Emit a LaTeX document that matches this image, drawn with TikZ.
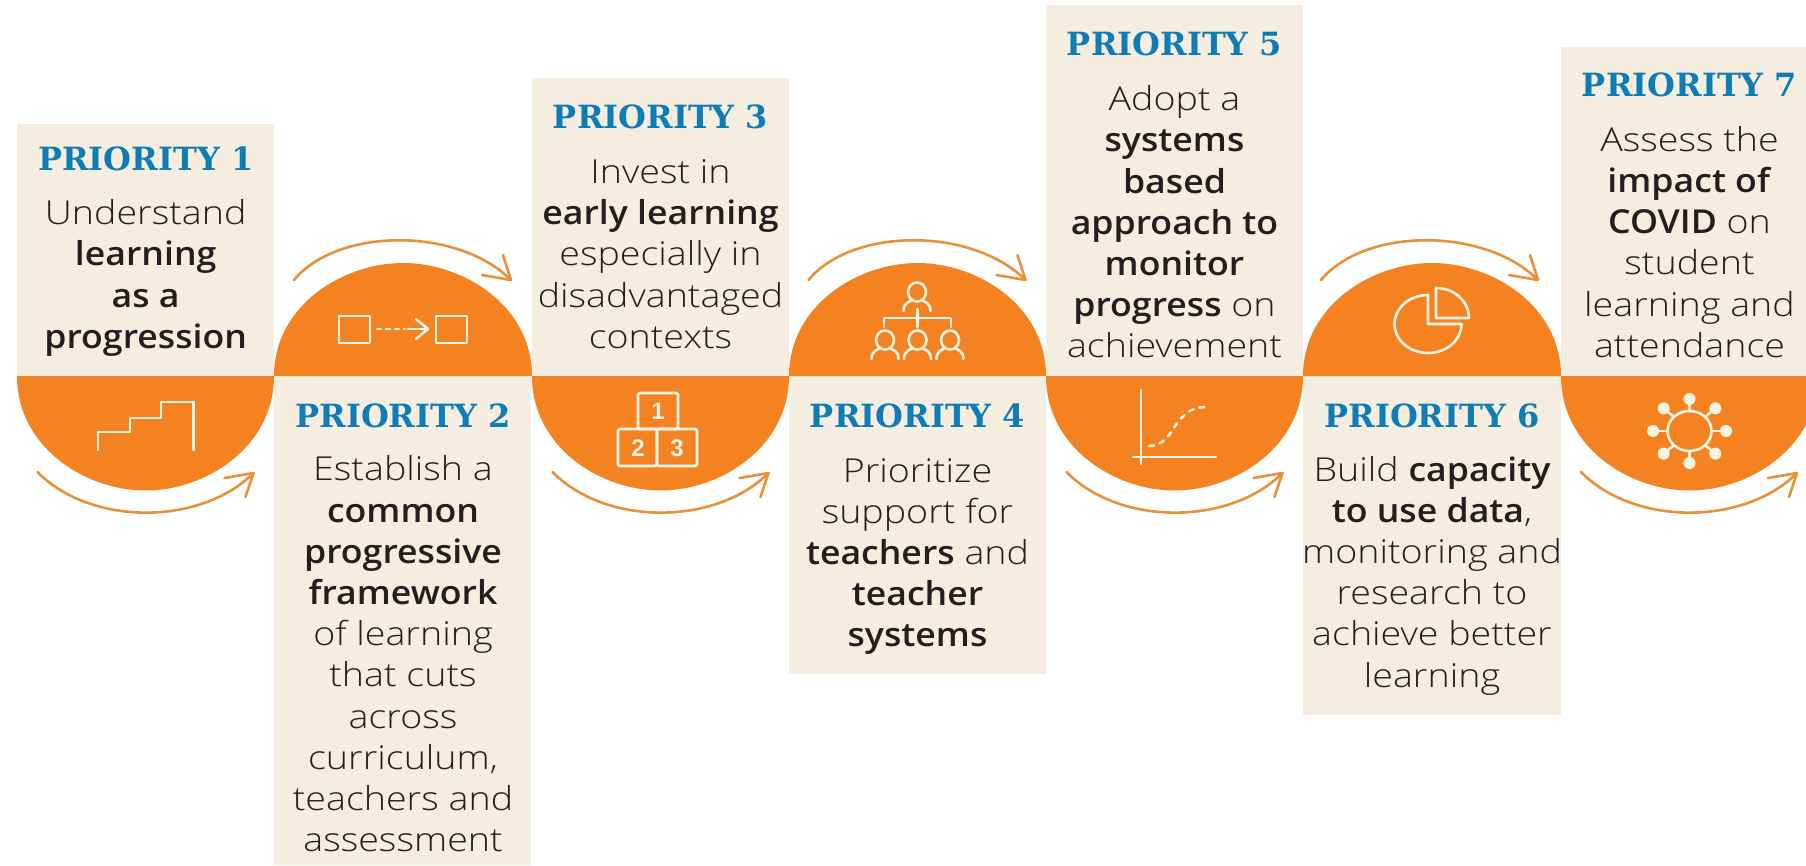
\documentclass[tikz,border=0pt]{standalone}
\usepackage{fontspec}
\setmainfont{Open Sans Light}[FakeStretch=1.14,BoldFont={Open Sans Semibold},BoldFeatures={FakeStretch=1.08}]
\newfontfamily\headf{DejaVu Serif}[BoldFont={DejaVu Serif Bold}]
\newfontfamily\numf{Liberation Sans}[BoldFont={Liberation Sans Bold}]
\definecolor{orangefill}{HTML}{F58220}
\definecolor{arrowcol}{HTML}{E8903A}
\definecolor{boxcol}{HTML}{F5EEE0}
\definecolor{headcol}{HTML}{0F7DB5}
\definecolor{inkcol}{HTML}{231F20}
\definecolor{iconcol}{HTML}{FBF3E4}
\tikzset{
 boxnode/.style={fill=boxcol,draw=none,inner sep=0pt,anchor=north west},
 headnode/.style={text=headcol,inner sep=0pt,font=\fontsize{32}{36}\headf\bfseries},
 bodynode/.style={text=inkcol,inner sep=0pt,align=center,font=\fontsize{33}{41.2}\selectfont},
 half/.style={fill=orangefill,draw=none},
 flow/.style={draw=arrowcol,line width=2.6pt,line cap=round,line join=round},
 icon/.style={draw=iconcol,line width=2.6pt,line cap=round,line join=round},
 numnode/.style={text=iconcol,inner sep=0pt,font=\fontsize{24}{24}\numf\bfseries},
}
% half disc: centre x, horizontal radius, signed vertical radius (above the axis > 0)
\newcommand{\halfdisc}[3]{%
 \fill[half] (#1-#2,-376)
  .. controls (#1-#2,{-376+0.62*(#3)}) and ({#1-0.47*#2},{-376+(#3)}) .. (#1,{-376+(#3)})
  .. controls ({#1+0.47*#2},{-376+(#3)}) and (#1+#2,{-376+0.62*(#3)}) .. (#1+#2,-376) -- cycle;}
\newcommand{\topflow}[1]{%
 \draw[flow] (#1-109,-280) .. controls (#1-65,-227) and (#1+55,-227) .. (#1+108,-280);
 \draw[flow] (#1+79,-275) -- (#1+108,-280) -- (#1+100,-255);}
\newcommand{\botflow}[1]{%
 \draw[flow] (#1-108,-472) .. controls (#1-55,-526) and (#1+55,-526) .. (#1+108,-473);
 \draw[flow] (#1+79,-478) -- (#1+108,-473) -- (#1+100,-497);}
\newcommand{\person}[2]{%
 \draw[icon] (#1,#2) ellipse [x radius=9,y radius=9.5];
 \draw[icon] (#1-13.5,#2-19) .. controls (#1-13.5,#2-11) and (#1-8,#2-10) .. (#1-5,#2-8);
 \draw[icon] (#1+13.5,#2-19) .. controls (#1+13.5,#2-11) and (#1+8,#2-10) .. (#1+5,#2-8);}
\begin{document}
\begin{tikzpicture}[x=1pt,y=1pt]
\useasboundingbox (0,0) rectangle (1806,-865);
\fill[white] (0,0) rectangle (1806,-865);
% boxes
\node[boxnode,minimum width=257pt,minimum height=252pt] (b1) at (17,-124) {};
\node[boxnode,minimum width=257pt,minimum height=489pt] (b2) at (274,-376) {};
\node[boxnode,minimum width=257pt,minimum height=298pt] (b3) at (532,-78) {};
\node[boxnode,minimum width=257pt,minimum height=298pt] (b4) at (789,-376) {};
\node[boxnode,minimum width=257pt,minimum height=371pt] (b5) at (1046,-5) {};
\node[boxnode,minimum width=258pt,minimum height=339pt] (b6) at (1303,-376) {};
\node[boxnode,minimum width=245pt,minimum height=329pt] (b7) at (1561,-47) {};
% half discs
\halfdisc{145.5}{128.5}{-114.5}
\halfdisc{403}{129}{113}
\halfdisc{660.5}{128.5}{-114.5}
\halfdisc{917.5}{128.5}{113}
\halfdisc{1174.5}{128.5}{-114.5}
\halfdisc{1432}{129}{113}
\begin{scope}
\clip (0,0) rectangle (1806,-865);
\halfdisc{1689.5}{128.5}{-114.5}
\end{scope}
% flows
\botflow{145.5}
\topflow{403}
\botflow{660.5}
\topflow{917.5}
\botflow{1174.5}
\topflow{1430}
\botflow{1689}
% headings
\node[headnode] (h1) at (145.7,-159) {PRIORITY 1};
\node[headnode] (h2) at (403,-416) {PRIORITY 2};
\node[headnode] (h3) at (660.5,-117) {PRIORITY 3};
\node[headnode] (h4) at (917.5,-416) {PRIORITY 4};
\node[headnode] (h5) at (1174.5,-44) {PRIORITY 5};
\node[headnode] (h6) at (1432,-416) {PRIORITY 6};
\node[headnode] (h7) at (1689.5,-85) {PRIORITY 7};
% bodies
\node[bodynode] (t1) at (145.7,-278) {Understand\\\textbf{learning}\\\textbf{as a}\\\textbf{progression}};
\node[bodynode] (t2) at (403,-654) {Establish a\\\textbf{common}\\\textbf{progressive}\\\textbf{framework}\\of learning\\that cuts\\across\\curriculum,\\teachers and\\assessment};
\node[bodynode] (t3) at (660.5,-254) {Invest in\\\textbf{early learning}\\especially in\\disadvantaged\\contexts};
\node[bodynode] (t4) at (917.5,-556.5) {Prioritize\\support for\\\textbf{teachers} and\\\textbf{teacher}\\\textbf{systems}};
\node[bodynode] (t5) at (1174.5,-222) {Adopt a\\\textbf{systems}\\\textbf{based}\\\textbf{approach to}\\\textbf{monitor}\\\textbf{progress} on\\achievement};
\node[bodynode] (t6) at (1432,-575.5) {Build \textbf{capacity}\\\textbf{to use data},\\monitoring and\\research to\\achieve better\\learning};
\node[bodynode] (t7) at (1689.5,-242) {Assess the\\\textbf{impact of}\\\textbf{COVID} on\\student\\learning and\\attendance};
% icon 1: stairs
\draw[icon] (98,-450) |- (130,-432) |- (161,-418) |- (193.5,-402) -- (193.5,-450);
% icon 2
\draw[icon] (339,-316) rectangle (370,-343);
\draw[icon] (436,-316) rectangle (467,-343);
\draw[icon,dash pattern=on 4pt off 5pt] (377,-329) -- (405,-329);
\draw[icon] (408,-329) -- (428,-329);
\draw[icon] (416,-319) -- (428,-329) -- (416,-339);
% icon 3
\draw[icon,rounded corners=1.5pt] (638,-393) rectangle (678,-429);
\draw[icon,rounded corners=1.5pt] (618,-429) rectangle (657,-466);
\draw[icon,rounded corners=1.5pt] (657,-429) rectangle (697,-466);
\node[numnode] (n1) at (658,-411) {1};
\node[numnode] (n2) at (638,-448) {2};
\node[numnode] (n3) at (677,-448) {3};
% icon 4
\person{917}{-292}
\person{885}{-340}
\person{917.5}{-340}
\person{950}{-340}
\draw[icon] (917.5,-309) -- (917.5,-327);
\draw[icon] (884,-327) |- (951,-318) -- (951,-327);
% icon 5
\draw[icon] (1141,-390) -- (1141,-464);
\draw[icon] (1133,-457) -- (1216,-457);
\draw[icon,dash pattern=on 5pt off 6pt] (1149,-446) .. controls (1176,-446) and (1172,-407) .. (1206,-407);
% icon 6
\draw[icon] (1428,-295) arc[start angle=90,end angle=360,x radius=33.5,y radius=29] -- (1428,-324) -- cycle;
\draw[icon] (1436,-288) arc[start angle=90,end angle=0,x radius=33,y radius=30] -- (1436,-318) -- cycle;
% icon 7
\draw[icon] (1689.5,-431) ellipse [x radius=22,y radius=20];
\foreach \a in {0,45,...,315}{
 \draw[icon] ({1689.5+22*cos(\a)},{-431+20*sin(\a)}) -- ({1689.5+36.5*cos(\a)},{-431+32*sin(\a)});
 \fill[iconcol] ({1689.5+36.5*cos(\a)},{-431+32*sin(\a)}) circle (6);
}
\end{tikzpicture}
\end{document}
